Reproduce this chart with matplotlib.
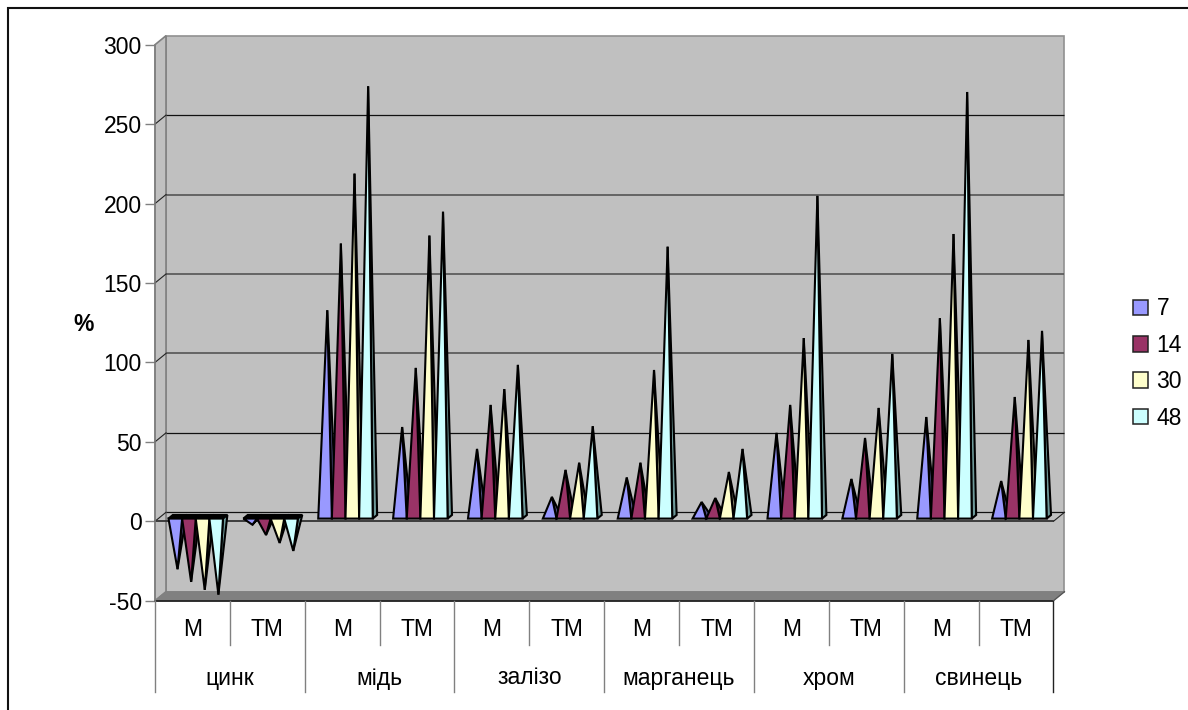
import matplotlib
matplotlib.use('Agg')
import matplotlib.pyplot as plt
from matplotlib.patches import Polygon, Patch, Rectangle

plt.rcParams['font.family'] = ['Liberation Sans', 'DejaVu Sans']
plt.rcParams['font.size'] = 16.5
plt.rcParams['axes.unicode_minus'] = False

# data
groups = ['цинк', 'мідь', 'залізо', 'марганець', 'хром', 'свинець']
subs = ['М', 'ТМ']
series_names = ['7', '14', '30', '48']
s7 = [-33, -5, 130, 56.5, 42.7, 12.5, 24.7, 9.3, 52.8, 23.8, 62.8, 22.5]
s14 = [-41, -11.5, 172, 93.7, 70.4, 29.5, 34, 11.8, 70.4, 49.6, 125, 75.4]
s30 = [-46, -16.5, 216, 177, 80.4, 34, 92.4, 28.2, 112.5, 68.5, 178, 111.3]
s48 = [-49, -21.5, 271, 192, 95.6, 57, 170, 42.7, 202, 102.5, 267.4, 117]
all_series = [s7, s14, s30, s48]
front_colors = ['#9999FF', '#993366', '#FFFFCC', '#CCFFFF']
side_colors = ['#4D4D80', '#4D1A33', '#808066', '#6E9999']

W, H = 1188, 710
fig = plt.figure(figsize=(W / 100, H / 100), dpi=100)
ax = fig.add_axes([155 / W, 1 - 600.7 / H, 898.5 / W, 556 / H])
ax.set_xlim(0, 12)
ax.set_ylim(-50, 300)
ax.patch.set_visible(False)
for s in ['top', 'right', 'bottom']:
    ax.spines[s].set_visible(False)
ax.spines['left'].set_color('#808080')
ax.spines['left'].set_linewidth(1.1)
ax.set_yticks(range(-50, 301, 50))
ax.tick_params(axis='y', length=7.5, width=1.0, color='#808080', pad=2, labelsize=16.5)
ax.set_xticks([])
ax.text(-0.955, 124, '%', fontsize=16.5, fontweight='bold', ha='center', va='center')

# depth of the fake 3d box, in data units
dx = 11 / 74.875
dy = 9 / 1.5886

# walls
ax.add_patch(Polygon([(dx, -50 + dy), (12 + dx, -50 + dy), (12 + dx, 300 + dy), (dx, 300 + dy)],
                     fc='#C0C0C0', ec='#909090', lw=1.2, clip_on=False, zorder=1))
ax.add_patch(Polygon([(0, -50), (dx, -50 + dy), (dx, 300 + dy), (0, 300)],
                     fc='#C0C0C0', ec='#808080', lw=1.2, clip_on=False, zorder=1))
ax.add_patch(Polygon([(0, -50), (dx, -50 + dy), (12 + dx, -50 + dy), (12, -50)],
                     fc='#808080', ec='#808080', lw=0.8, clip_on=False, zorder=1))
# floor front edge
ax.plot([0, 12], [-50, -50], color='#222222', lw=1.3, clip_on=False, zorder=2)
ax.plot([12, 12 + dx], [-50, -50 + dy], color='#555555', lw=0.9, clip_on=False, zorder=2)

# grid on back wall and side wall
for v in range(0, 300, 50):
    c = '#111111' if v in (0, 50, 250) else '#555555'
    lw = 0.9 if v in (0, 50, 250) else 1.2
    ax.plot([dx, 12 + dx - 0.01], [v + dy, v + dy], color=c, lw=lw, solid_capstyle='butt',
            clip_on=False, zorder=2)
    ax.plot([0, dx], [v, v + dy], color='#222222', lw=0.8, clip_on=False, zorder=2)
ax.plot([12, 12 + dx], [0, dy], color='#222222', lw=0.8, clip_on=False, zorder=2)
# front zero line
ax.plot([0, 12], [0, 0], color='#333333', lw=1.3, clip_on=False, zorder=2)

# pyramids, left to right so that each one covers the side of the one before
n = len(all_series)
bar_w = 0.182
edge = 1.5
z = 3
for i in range(12):
    x0 = i + 0.5 - n * bar_w / 2
    for j, ser in enumerate(all_series):
        v = ser[i]
        xl = x0 + j * bar_w + 0.3 * dx
        xr = xl + bar_w
        yf = 0.3 * dy
        xb = xr + 0.4 * dx
        yb = 0.7 * dy
        apex = ((xl + xr) / 2 + 0.2 * dx, v + 0.5 * dy)
        if v < 0:
            ax.add_patch(Polygon([(xl, yf), (xr, yf), (xb, yb), (xl + 0.4 * dx, yb)],
                                 fc='black', ec='black', lw=edge, zorder=z))
            z += 1
        ax.add_patch(Polygon([(xr, yf), (xb, yb), apex], fc=side_colors[j], ec='black',
                             lw=edge, joinstyle='miter', clip_on=False, zorder=z))
        z += 1
        ax.add_patch(Polygon([(xl, yf), (xr, yf), apex], fc=front_colors[j], ec='black',
                             lw=edge, joinstyle='miter', clip_on=False, zorder=z))
        z += 1

# two level category axis below the box
tr = ax.get_xaxis_transform()
y_sub = -(645 - 600.7) / 556
y_grp = -(692 - 600.7) / 556
for i in range(13):
    col = '#222222' if i == 12 else '#808080'
    bottom = y_grp if i % 2 == 0 else y_sub
    ax.plot([i, i], [0, bottom], color=col, lw=1.0, transform=tr, clip_on=False, zorder=2)
for i in range(12):
    ax.text(i + 0.5, -(630 - 600.7) / 556, subs[i % 2], transform=tr, ha='center', va='center', fontsize=16.5)
for i, g in enumerate(groups):
    ax.text(2 * i + 1, -(678 - 600.7) / 556, g, transform=tr, ha='center', va='center', fontsize=16.5)

# legend
handles = [Patch(fc=c, ec='#222222', lw=1.1) for c in front_colors]
fig.legend(handles, series_names, loc='center left', bbox_to_anchor=(1126 / W, 1 - 363.5 / H),
           frameon=False, fontsize=16.5, handlelength=0.67, handleheight=0.67,
           handletextpad=0.36, labelspacing=0.585, borderpad=0.3, borderaxespad=0)

# frame of the original picture, cut on right and bottom
fig.add_artist(Rectangle((8 / W, -0.2), 1.2, 1.2 - 8 / H, fc='none', ec='#111111', lw=1.5,
                         transform=fig.transFigure))

fig.savefig('out.png', dpi=100)
